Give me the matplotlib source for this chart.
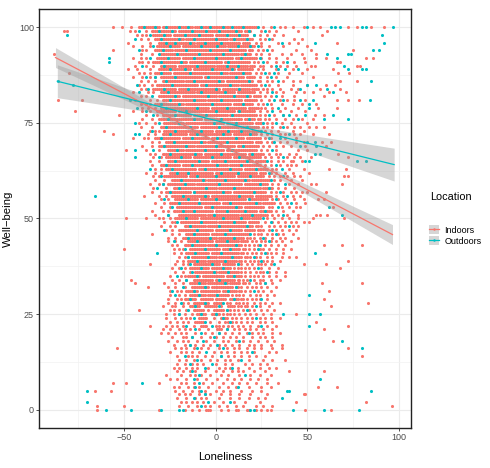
import matplotlib
matplotlib.use('Agg')
import matplotlib.pyplot as plt
import numpy as np
from matplotlib.patches import Patch
from matplotlib.lines import Line2D

plt.rcParams['font.family'] = ['Liberation Sans', 'DejaVu Sans']

groups = ['Indoors', 'Outdoors']
colours = ['#F8766D', '#00BFC4']

# well-being rows, top to bottom
wellbeing = list(range(100, -1, -1))

# loneliness values seen on each row ("a:b" = a run of points from a to b)
indoors_x = [
    "-56 -51 -46 -42:-31 -29:-13 -11:8 10:22 26 30 35 38 42 48 53 57 72 77 85 92",  # 100
    "-83 -81 -47 -44 -38 -35:-22 -20:-6 -4:14 16:19 25 29 33 45 61",  # 99
    "-43 -40 -38 -34:-25 -23:-2 0:17 21 24 28 32 37 58",  # 98
    "-41 -37 -33:-18 -16:6 8:20 24 27 31 43 47",  # 97
    "-48 -36 -31:-12 -10:13 15:18 22 25 34 40 45 66",  # 96
    "-45 -40 -36 -32:-20 -18:5 7:21 25 29 37 50",  # 95
    "-56 -40 -38 -33:-24 -22:-4 -2:16 18:20 23 26 31 44 52 75",  # 94
    "-88 -41 -35 -30:-10 -8:12 14:19 22 25 29 36 41 47 55",  # 93
    "-45 -41 -38 -32:-20 -18:9 11:22 25 29 33 39 48 55 60 82 86",  # 92
    "-42 -40 -37 -34:-16 -14:3 5:18 21 23 28 33 37 43 49 66 68",  # 91
    "-44 -38 -34 -30:-22 -20:-1 1:17 19:21 24 26 30 35 39 44 52 54 77 79",  # 90
    "-48 -43 -36 -31:-14 -12:10 12:20 23 26 33 42 50 64",  # 89
    "-80 -42 -39 -36 -33:-25 -23:6 8:19 22 25 29 34 40 47 67 73",  # 88
    "-45 -40 -36 -33 -30:-8 -6:15 17:21 24 28 33 39 53",  # 87
    "-41 -37 -33 -29:-18 -16:4 6:20 23 24 28 31 37 42 46 68 77",  # 86
    "-42 -39 -35 -32:-10 -8:12 14:22 25 29 34 42 50 60 65",  # 85
    "-41 -38 -34:-22 -20:2 4:18 20:23 26 28 31 35 41 45 57 68",  # 84
    "-45 -37 -34 -30:-12 -10:10 12:21 24 28 33 37 44 48 53 62 71",  # 83
    "-41 -38 -31:-20 -18:0 2:19 21:24 27 30 36 43 59",  # 82
    "-86 -73 -44 -36 -32 -29:-6 -4:14 16:22 25 29 35 39 43 49 66 72 78",  # 81
    "-41 -38 -36 -33:-18 -16:8 10:20 23 26 30 36 42 47 55",  # 80
    "-40 -37 -33 -30:-4 -2:16 18:23 25 27 31 38 45 56 66",  # 79
    "-77 -45 -40 -36 -32:-22 -20:10 12:21 24 28 35 41 49",  # 78
    "-53 -38 -32 -29:-14 -12:6 8:22 24 27 32 37 44 54 59",  # 77
    "-40 -35 -31:-8 -6:14 16:21 23 24 27 29 33 38 42 47 53",  # 76
    "-42 -38 -33 -28:-18 -16:4 6:20 22:25 28 31 36 41 50",  # 75
    "-41 -35 -30:-10 -8:12 14:23 26 28 31 35 39 43 46 51 55 59",  # 74
    "-61 -36 -33 -31 -28:-2 0:18 20:24 27 30 34 42 48",  # 73
    "-56 -37 -33 -29:-16 -14:8 10:22 25 28 31 35 38 43 46 53 62",  # 72
    "-45 -39 -37 -33:-20 -18:-4 -2:15 17:24 27 30 38 44",  # 71
    "-35 -31 -27:-6 -4:20 22:25 28 31 35 39 44 48 58 63",  # 70
    "-40 -35 -31:-12 -10:10 12:23 26 29 33 37 41 49 60",  # 69
    "-49 -38 -31 -26:-18 -16:4 6:22 25 28 33 45 50",  # 68
    "-36 -33 -29:-8 -6:16 18:26 29 33 35 40 44 67",  # 67
    "-34 -30 -27:-14 -12:8 10:24 27 30 34 39 43 46 52 72",  # 66
    "-36 -31 -26:-4 -2:20 22:27 30 34 37 41 42 47",  # 65
    "-35 -30:-20 -18:6 8:24 27 30 35 39 41 44",  # 64
    "-33 -30 -27:-11 -9:14 16:28 31 33 40 48 62 71",  # 63
    "-38 -33 -30 -25:-2 0:22 24:27 30 33 38 42 51",  # 62
    "-34 -31 -28:-16 -14:10 12:26 29 32 35 39 43 46 70 72",  # 61
    "-33 -28 -24:-6 -4:18 20:29 32 35 41 47",  # 60
    "-36 -31 -29 -26:-12 -10:14 16:28 31 34 40 45 52 55 69",  # 59
    "-34 -27 -23:0 2:24 26:31 34 38 43",  # 58
    "-35 -30 -27:-14 -12:8 10:27 30 33 37 41 44 47 50 60",  # 57
    "-39 -31 -27 -24:-4 -2:20 22:30 33 37 42 46",  # 56
    "-30 -26 -22:-10 -8:16 18:28 31 34 38 43 48 56 59",  # 55
    "-33 -28 -25:2 4:24 26:32 35 39 44 49",  # 54
    "-30 -25 -21:-8 -6:14 16:26 29 31 36 40 44 46 64",  # 53
    "-35 -29 -26 -23:-2 0:22 24:30 33 37 42",  # 52
    "-33 -26 -20:-6 -4:12 14:28 31 34 39 45 55 57 61",  # 51
    "-49 -38 -31 -29 -25 -22:-10 -8:18 20:24 28 32 36 40 45 53 70",  # 50
    "-28 -24 -22 -19:0 2:16 18:23 27 31 34 38 41 44 48 51",  # 49
    "-30 -25 -22 -17:-6 -4:20 22 23 25 29 32 35 38 42 45",  # 48
    "-27 -24 -20:-2 0:14 16:21 23 24 26 29 33 36 40 44",  # 47
    "-35 -24 -20 -16:-4 -2:18 21 23 25 28 31 34 37 42",  # 46
    "-26 -22 -18:0 2:15 17 19 21 24 27 31 35 38 45",  # 45
    "-26 -22 -19 -15:-2 0:12 14:17 20 22 25 27 30 33 36 41",  # 44
    "-24 -21 -17:-6 -4:14 16 18 21 23 27 30 34 38 59 69 80",  # 43
    "-50 -23 -20 -18 -14:2 4:13 15 16 18 21 24 26 29 33 37 41",  # 42
    "-23 -19 -16:-4 -2:12 14 15 17 20 22 25 28 30 33 37",  # 41
    "-20 -17 -15 -13:0 2:14 16 17 19 22 24 28 31 36 40 44",  # 40
    "-21 -18 -15:-6 -4:11 13 14 16 19 21 23 26 28 31 35 72",  # 39
    "-36 -22 -18 -15 -12:2 4:10 12 14 17 20 23 25 27 30 48 60",  # 38
    "-24 -20 -17 -14:-4 -2:8 10 12 14 16 18 21 25 29 34 68",  # 37
    "-22 -18 -14 -11:0 2:12 14 16 19 22 24 26 29 33 38",  # 36
    "-25 -19 -17 -15:-9 -7:4 6:14 16 19 21 23 26 29 33 38",  # 35
    "-46 -24 -20 -16 -12:-2 0:10 12 13 15 17 21 24 26 30 35",  # 34
    "-44 -28 -22 -18 -14:-6 -4:6 8:13 15 16 18 22 24 27 31 58 80",  # 33
    "-37 -26 -22 -17 -13:-4 -2:9 11 12 14 17 20 22 25 28 33",  # 32
    "-25 -21 -19 -16:-10 -8:2 4:11 13 14 16 19 23 26 30 62",  # 31
    "-25 -20 -17 -14:-6 -4:6 7 9 11 13 15 19 22 24 28 32",  # 30
    "-26 -21 -19 -17:-11 -8:-2 0:5 8:12 14 15 17 20 22 24 28 59",  # 29
    "-26 -22 -18 -15 -12:-4 -1:3 6 8 11 13 15 17 21 24 27 31 35 83",  # 28
    "-29 -24 -22 -18 -14:-9 -6:0 3 7:10 12 14 16 17 20 24 29 63",  # 27
    "-42 -25 -23 -20 -16 -12:-7 -4 -1:4 6 8 10 12 15 18 21 25 28 32",  # 26
    "-27 -23 -20 -17 -13 -10:-6 -2:2 4 6 8 10 13 16 19 22 26 30 44",  # 25
    "-27 -22 -19 -16 -14 -9:-5 -1 3:6 9 11 14 17 20 24 27 30 35",  # 24
    "-25 -21 -18 -15 -11:-7 -3 2 5 7 9 11 14 17 20 24 27 31 55",  # 23
    "-36 -27 -24 -21 -18 -12 -8:-5 0 2 4 7 9 12 15 19 23 28 33 72",  # 22
    "-29 -25 -20 -17 -14 -9 -4 1:3 6 10 13 16 19 22 26 31 59",  # 21
    "-30 -26 -22 -19 -16 -11 -6 -2 2 5 9 13 17 20 23 26 31 35",  # 20
    "-24 -18 -16 -13 -8 -3 0 4 8 11 15 20 24 27 31",  # 19
    "-26 -21 -18 -15 -10 -5 -1 4 7 11 15 19 23 28 32 64",  # 18
    "-23 -17 -14 -11 -7 -3 2 5 9 13 18 21 25 30 36",  # 17
    "-54 -22 -19 -16 -12 -8 -4 2 6 10 13 17 21 25 31 36 72",  # 16
    "-25 -19 -16 -13 -9 -1 3 6 10 14 17 21 29 33",  # 15
    "-21 -15 -13 -10 -6 -2 3 7 10 14 18 22 27 80",  # 14
    "-20 -16 -12 -8 -3 1 5 8 12 18 26 31 38",  # 13
    "-21 -17 -13 -10 -7 0 5 9 16 20 24 28",  # 12
    "-23 -20 -16 -13 -10 -4 2 5 8 12 18 24 29 33",  # 11
    "-21 -18 -14 -11 -6 0 4 9 12 15 21 27 40 59",  # 10
    "-27 -19 -14 -11 -8 -3 3 7 13 19 24 30",  # 9
    "-25 -21 -16 -10 -5 1 6 10 14 19 23 28",  # 8
    "-56 -49 -31 -19 -16 -12 -7 -2 4 9 13 17 22 28 34",  # 7
    "-23 -20 -15 -12 -9 -4 2 7 11 18 25 30 56 66",  # 6
    "-66 -57 -22 -18 -13 -9 -6 0 4 8 14 20 25",  # 5
    "-20 -17 -14 -9 -6 -3 3 8 13 19 28 48 49",  # 4
    "-21 -16 -11 -8 -5 2 8 13 18 23 27",  # 3
    "-19 -16 -13 -10 -7 -1 4 10 16 24 44 82",  # 2
    "-65 -50 -20 -15 -10 -6 -3 2 6 11 15 22 26 31 96",  # 1
    "-65 -31 -17 -13 -9 -5 -4 -3 3 7 11 12 17 18 22 25 28 30 49 63",  # 0
]

outdoors_x = [
    "-39 -33 -27 -20 -15 -8 -3 4 9 15 23 32 50 63 65 68 80 82 97",  # 100
    "-42 -31 -24 -13 -5 2 11 18 27",  # 99
    "-81 -36 -28 -17 -9 6 13 21 91",  # 98
    "-44 -30 -20 -12 0 10 17 29",  # 97
    "-27 -22 -14 -6 3 36 54 92",  # 96
    "-34 -25 -8 1 12 19 23",  # 95
    "-42 -29 -16 -3 8 28 86 89",  # 94
    "-31 -21 -9 4 16 61 72 74",  # 93
    "-58 -36 -26 -12 0 14 24 66",  # 92
    "-58 -30 -19 -6 7 26 39",  # 91
    "-40 -28 -10 6 12 33 70",  # 90
    "-25 -17 -2 9 34 38 45 72 80 82",  # 89
    "-30 -14 3 15 27 32",  # 88
    "-38 -33 -22 -4 11 30",  # 87
    "-86 -27 -12 2 18 34 85",  # 86
    "-78 -43 -24 -5 8 27 50 55",  # 85
    "-37 -28 -15 0 13 46 61",  # 84
    "-42 -26 -8 5 31 64",  # 83
    "-35 -22 -4 10 17 33",  # 82
    "-47 -25 -12 3 32 37 46 53 84",  # 81
    "-30 -20 -2 15 28 51",  # 80
    "-43 -27 -10 6 34 51",  # 79
    "-38 -16 0 13 31",  # 78
    "-34 -22 -5 9 29 37 40 49 64",  # 77
    "-26 -12 3 18 45 59 72",  # 76
    "-44 -31 -20 -1 11 26 33",  # 75
    "-27 -14 2 17 37",  # 74
    "-35 -22 -8 7 14 25",  # 73
    "-44 -42 -25 -10 4 19 40",  # 72
    "-30 -13 1 11 29 35",  # 71
    "-23 -8 6 32 50 54",  # 70
    "-28 -16 0 15 46 55",  # 69
    "-44 -34 -21 -6 9 31",  # 68
    "-25 -11 3 20 54 57",  # 67
    "-44 -31 -19 -2 13 37",  # 66
    "-22 -9 5 17 28 49 51 77 82",  # 65
    "-27 -13 1 14 33",  # 64
    "-36 -24 -6 8 22 36",  # 63
    "-21 -15 3 12 29",  # 62
    "-30 -10 0 19 37",  # 61
    "-19 -7 5 16 30",  # 60
    "-29 -17 2 24 38",  # 59
    "-32 -20 -5 10 29",  # 58
    "-25 -12 4 21 35",  # 57
    "-66 -18 -6 13 39",  # 56
    "-28 -15 0 18 33",  # 55
    "-20 -9 8 22 41",  # 54
    "-24 -2 11 34 62",  # 53
    "-18 -12 6 16 27",  # 52
    "-26 -1 20 37 69",  # 51
    "-16 4 14 26",  # 50
    "-21 -8 10 30",  # 49
    "-14 2 17 40",  # 48
    "-28 -10 8 31",  # 47
    "-12 5 19 33",  # 46
    "-15 -3 10 26",  # 45
    "-23 -10 6 29",  # 44
    "-13 0 11 24",  # 43
    "-17 -6 8 23",  # 42
    "-32 -11 3 27 54",  # 41
    "-15 -4 9 21",  # 40
    "-10 5 25",  # 39
    "-14 -2 12 32",  # 38
    "-19 -8 4 23",  # 37
    "-13 -1 7 28",  # 36
    "-21 -10 10",  # 35
    "-16 2 19",  # 34
    "-9 5 27",  # 33
    "-18 -6 11",  # 32
    "-24 -12 7 21",  # 31
    "-22 -9 1 51",  # 30
    "-14 10 25",  # 29
    "-19 -6 4",  # 28
    "-11 2 22",  # 27
    "-15 6 17",  # 26
    "-20 -8 0 37 51 57",  # 25
    "-12 4 22",  # 24
    "-6 8",  # 23
    "-16 -2 25 51",  # 22
    "-11 6",  # 21
    "-8 2 18",  # 20
    "-13 -1",  # 19
    "-7 13 69",  # 18
    "-14 1",  # 17
    "-10 4 80",  # 16
    "-5 20",  # 15
    "-17 3",  # 14
    "-10 14",  # 13
    "-14 -2",  # 12
    "-6 9",  # 11
    "-13",  # 10
    "-9 16",  # 9
    "-12 57",  # 8
    "-40 -9",  # 7
    "-11 12",  # 6
    "-70 -8 39 40 85",  # 5
    "-6",  # 4
    "-12 36",  # 3
    "-70 -4 8",  # 2
    "-8",  # 1
    "-60 -46 -30 -20 -18 19 21 42 59 78",  # 0
]

# lm fits: x range and fitted well-being at both ends, ci half-widths
fit_x = [[-87.4, 96.5], [-86.4, 97.4]]
fit_y = [[92.1, 45.8], [85.9, 64.1]]
ci_mid = [0.4, 0.8]
ci_end = [2.6, 4.3]

x_ticks = [-50, 0, 50, 100]
y_ticks = [0, 25, 50, 75, 100]


def expand(row):
    xs = []
    for tok in row.split():
        if ':' in tok[1:]:
            i = tok.index(':', 1)
            xs.extend(range(int(tok[:i]), int(tok[i + 1:]) + 1))
        else:
            xs.append(int(tok))
    return xs


assert len(indoors_x) == len(wellbeing) == len(outdoors_x)

fig = plt.figure(figsize=(4.9, 4.68), dpi=100)
ax = fig.add_axes([39 / 490, 40 / 468, 372 / 490, 419 / 468])

for rows, col in zip([indoors_x, outdoors_x], colours):
    px, py = [], []
    for yv, row in zip(wellbeing, rows):
        xs = expand(row)
        px += xs
        py += [yv] * len(xs)
    ax.scatter(px, py, s=5, c=col, linewidths=0, zorder=2)

for i, col in enumerate(colours):
    xs = np.linspace(fit_x[i][0], fit_x[i][1], 120)
    ys = np.interp(xs, fit_x[i], fit_y[i])
    xc = (fit_x[i][0] + fit_x[i][1]) / 2
    hr = (fit_x[i][1] - fit_x[i][0]) / 2
    half = np.sqrt(ci_mid[i] ** 2 + (ci_end[i] ** 2 - ci_mid[i] ** 2) * ((xs - xc) / hr) ** 2)
    ax.fill_between(xs, ys - half, ys + half, color='#999999', alpha=0.4, lw=0, zorder=3)
    ax.plot(fit_x[i], fit_y[i], color=col, lw=0.9, zorder=4)

ax.set_xlim(-96.4, 106.6)
ax.set_ylim(-4.8, 104.8)
ax.set_xticks(x_ticks)
ax.set_yticks(y_ticks)
ax.set_xticks([-75, -25, 25, 75], minor=True)
ax.set_yticks([12.5, 37.5, 62.5, 87.5], minor=True)
ax.grid(True, which='major', color='#EBEBEB', lw=0.8, zorder=0)
ax.grid(True, which='minor', color='#F2F2F2', lw=0.5, zorder=0)
ax.set_axisbelow(True)
ax.tick_params(which='major', length=2.2, width=0.6, color='#333333',
               labelsize=6.5, labelcolor='#4D4D4D', pad=1.5)
ax.tick_params(which='minor', length=0)
for sp in ax.spines.values():
    sp.set_color('#222222')
    sp.set_linewidth(1.0)

fig.text(225 / 490, 1 - 457 / 468, 'Loneliness', ha='center', va='center', fontsize=8.2)
fig.text(8 / 490, 1 - 218.5 / 468, 'Well\u2212being', ha='center', va='center',
         rotation=90, fontsize=8.2)

fig.text(430.5 / 490, 1 - 197 / 468, 'Location', ha='left', va='center', fontsize=7.8)
handles = [(Patch(facecolor='#D6D6D6', edgecolor='none'),
            Line2D([], [], color=c, lw=0.9, marker='o', markersize=1.8, markeredgewidth=0))
           for c in colours]
fig.legend(handles, groups, loc='center left', bbox_to_anchor=(429 / 490, 1 - 235.5 / 468),
           frameon=False, fontsize=6.5, handlelength=1.1, handleheight=1.2,
           handletextpad=0.6, labelspacing=0.15, borderpad=0, borderaxespad=0)

fig.savefig('out.png', dpi=100)
